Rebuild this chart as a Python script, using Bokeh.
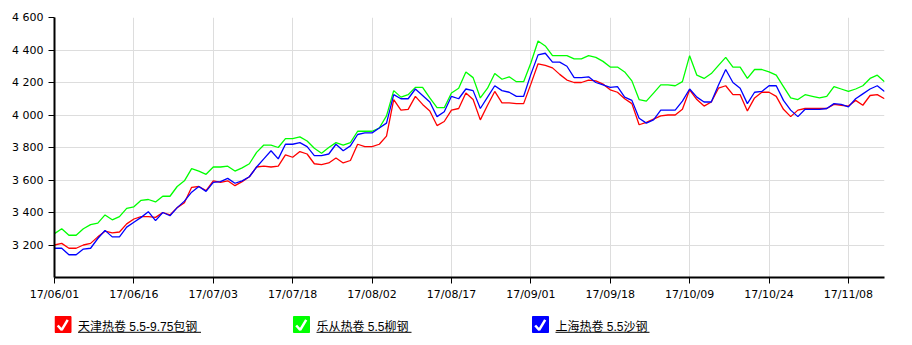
from bokeh.plotting import figure
from bokeh.models import FixedTicker, Range1d
from bokeh.layouts import column
from bokeh.embed import file_html
from bokeh.resources import INLINE
from bokeh.core.properties import value

# ---------------- data ----------------
series_names = ["天津热卷 5.5-9.75包钢", "乐从热卷 5.5柳钢", "上海热卷 5.5沙钢"]
series_colors = ["#ff0000", "#00ff00", "#0000ff"]

tianjin = [
    3200, 3210, 3180, 3180, 3200, 3210, 3250, 3285, 3275, 3280,
    3330, 3360, 3375, 3375, 3370, 3400, 3385, 3430, 3460, 3555,
    3560, 3535, 3595, 3585, 3595, 3565, 3590, 3620, 3680, 3685,
    3680, 3685, 3755, 3740, 3775,
    3760, 3700, 3695, 3705, 3735, 3705, 3720, 3820, 3805, 3805,
    3820, 3870, 4095, 4030, 4035, 4115, 4065, 4025, 3935, 3960,
    4030, 4040, 4135, 4095, 3970, 4060, 4145, 4075, 4075, 4070,
    4070, 4190, 4315, 4305, 4290, 4250, 4215, 4200, 4200, 4215,
    4210,
    4190, 4155, 4140, 4100, 4070, 3940, 3955, 3975, 3995, 4000,
    4000, 4035, 4155, 4095, 4055, 4080, 4165, 4180, 4125, 4125,
    4025, 4105, 4140, 4140, 4115, 4035, 3990, 4030, 4040, 4040,
    4040, 4040, 4065, 4060, 4055, 4090, 4060, 4120, 4125, 4100,
]
lecong = [
    3270, 3300, 3260, 3260, 3300, 3325, 3335, 3385, 3355, 3375,
    3425, 3435, 3475, 3480, 3465, 3500, 3500, 3560, 3595, 3670,
    3655, 3635, 3680, 3680, 3685, 3655, 3675, 3700, 3770, 3815,
    3815, 3800, 3855, 3855, 3865,
    3840, 3795, 3765, 3800, 3830, 3815, 3830, 3900, 3900, 3900,
    3920, 3995, 4150, 4110, 4125, 4170, 4170, 4105, 4045, 4045,
    4135, 4165, 4265, 4230, 4105, 4165, 4255, 4220, 4235, 4205,
    4205, 4320, 4455, 4425, 4365, 4365, 4365, 4345, 4345, 4365,
    4355,
    4330, 4295, 4295, 4265, 4210, 4095, 4085, 4135, 4185, 4185,
    4180, 4205, 4365, 4245, 4225, 4255, 4305, 4355, 4295, 4295,
    4225, 4280, 4280, 4265, 4245, 4175, 4105, 4095, 4125, 4115,
    4105, 4115, 4175, 4160, 4145, 4160, 4180, 4225, 4245, 4205,
]
shanghai = [
    3180, 3180, 3140, 3140, 3175, 3180, 3240, 3290, 3250, 3250,
    3310, 3340, 3370, 3405, 3350, 3400, 3380, 3430, 3470, 3525,
    3560, 3530, 3585, 3590, 3610, 3580, 3595, 3620, 3680, 3730,
    3780, 3730, 3820, 3820, 3830,
    3805, 3750, 3750, 3760, 3820, 3780, 3810, 3880, 3890, 3890,
    3920, 3950, 4125, 4100, 4100, 4160, 4120, 4080, 3990, 4020,
    4115, 4100, 4160, 4150, 4040, 4110, 4180, 4150, 4140, 4115,
    4115, 4250, 4370, 4380, 4325, 4325, 4300, 4230, 4230, 4235,
    4200,
    4185, 4170, 4175, 4110, 4090, 3980, 3950, 3970, 4030, 4030,
    4030, 4085, 4160, 4110, 4080, 4080, 4185, 4280, 4200, 4165,
    4070, 4140, 4145, 4180, 4180, 4090, 4030, 3990, 4035, 4035,
    4035, 4040, 4070, 4065, 4050, 4100, 4130, 4160, 4180, 4145,
]

x_tick_labels = ["17/06/01", "17/06/16", "17/07/03", "17/07/18", "17/08/02",
                 "17/08/17", "17/09/01", "17/09/18", "17/10/09", "17/10/24",
                 "17/11/08"]
x_tick_index = [0, 11, 22, 33, 44, 55, 66, 77, 88, 99, 110]
y_ticks = [3200, 3400, 3600, 3800, 4000, 4200, 4400, 4600]
y_tick_labels = ["3 200", "3 400", "3 600", "3 800", "4 000", "4 200", "4 400", "4 600"]
y_min, y_max = 3000, 4600

# ---------------- main chart ----------------
FONT = "DejaVu Sans"
W, H_MAIN, H_LEG = 912, 310, 35
B_LEFT, B_RIGHT = 54, 28
n = len(tianjin)
xs = list(range(n))

p = figure(width=W, height=H_MAIN, output_backend="svg", toolbar_location=None,
           x_range=Range1d(0, n - 1), y_range=Range1d(y_min, y_max),
           min_border_left=B_LEFT, min_border_right=B_RIGHT, min_border_top=17,
           min_border_bottom=33)
p.outline_line_color = None
p.background_fill_color = "white"
p.border_fill_color = "white"

for vals, c in zip([tianjin, lecong, shanghai], series_colors):
    p.line(xs, vals, line_color=c, line_width=1.3)

for ax in (p.xaxis[0], p.yaxis[0]):
    ax.axis_line_color = "black"
    ax.axis_line_width = 2
    ax.major_tick_line_color = "black"
    ax.major_tick_out = 6
    ax.major_tick_in = 0
    ax.minor_tick_out = 0
    ax.minor_tick_in = 0
    ax.major_label_text_font = FONT
    ax.major_label_text_font_size = "11px"
    ax.major_label_text_color = "black"

p.xaxis[0].ticker = FixedTicker(ticks=x_tick_index)
p.xaxis[0].major_label_overrides = {t: l for t, l in zip(x_tick_index, x_tick_labels)}
p.xaxis[0].major_label_standoff = 4
p.yaxis[0].ticker = FixedTicker(ticks=y_ticks)
p.yaxis[0].major_label_overrides = {t: l for t, l in zip(y_ticks, y_tick_labels)}
p.yaxis[0].major_label_standoff = 5

p.xgrid.ticker = FixedTicker(ticks=x_tick_index)
p.ygrid.ticker = FixedTicker(ticks=y_ticks)
p.grid.grid_line_color = "#dddddd"
p.grid.grid_line_width = 1

# ---------------- legend strip ----------------
# the column layout aligns this frame with the main frame (54 .. 884 px),
# so the x range is set to those pixel positions
lg = figure(width=W, height=H_LEG, output_backend="svg", toolbar_location=None,
            x_range=Range1d(B_LEFT, W - B_RIGHT), y_range=Range1d(H_LEG, 0),
            x_axis_location=None, y_axis_location=None,
            min_border_left=B_LEFT, min_border_right=B_RIGHT,
            min_border_top=0, min_border_bottom=0)
lg.outline_line_color = None
lg.grid.visible = False
lg.background_fill_color = "white"
lg.border_fill_color = "white"

box_left = [54.5, 293, 532]
text_width = [123, 95, 94]
box = 16
for bx, c, name, tw in zip(box_left, series_colors, series_names, text_width):
    lg.rect(x=[bx + box / 2], y=[14], width=box, height=box,
            fill_color=c, line_color=c)
    lg.line(x=[bx + 2.7, bx + 6.7, bx + 12.7], y=[15, 19.3, 9.3],
            line_color="white", line_width=2.5)
    tx = bx + 23
    lg.text(x=[tx], y=[16.8], text=[name], text_baseline="alphabetic",
            text_font=value("Liberation Sans, Noto Sans CJK SC"),
            text_font_size="12px", text_color="black")
    lg.line(x=[tx, tx + tw], y=[21.8, 21.8], line_color="black", line_width=1)

layout = column(p, lg, spacing=0)
open("out.html", "w").write(file_html(layout, INLINE))
